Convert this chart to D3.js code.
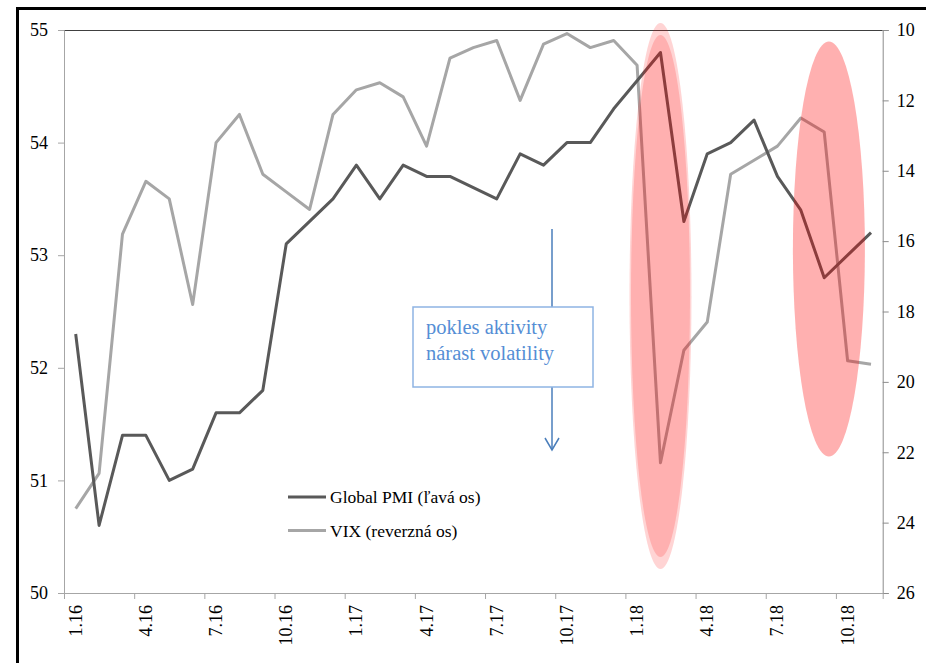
<!DOCTYPE html>
<html>
<head>
<meta charset="utf-8">
<script src="https://cdn.jsdelivr.net/npm/d3@7"></script>
<style>
  body { margin: 0; background: #fff; }
  svg text { font-family: "Liberation Serif", "Times New Roman", "DejaVu Serif", serif !important; }
</style>
</head>
<body>
<svg id="chart" width="926" height="663"></svg>
<script>
// months Jan 2016 .. Nov 2018
const months = ["1.16","2.16","3.16","4.16","5.16","6.16","7.16","8.16","9.16","10.16","11.16","12.16",
  "1.17","2.17","3.17","4.17","5.17","6.17","7.17","8.17","9.17","10.17","11.17","12.17",
  "1.18","2.18","3.18","4.18","5.18","6.18","7.18","8.18","9.18","10.18","11.18"];
const pmi = [52.3,50.6,51.4,51.4,51.0,51.1,51.6,51.6,51.8,53.1,53.3,53.5,
  53.8,53.5,53.8,53.7,53.7,53.6,53.5,53.9,53.8,54.0,54.0,54.3,
  54.55,54.8,53.3,53.9,54.0,54.2,53.7,53.4,52.8,53.0,53.2];
const vix = [23.6,22.6,15.8,14.3,14.8,17.8,13.2,12.4,14.1,14.6,15.1,12.4,
  11.7,11.5,11.9,13.3,10.8,10.5,10.3,12.0,10.4,10.1,10.5,10.3,
  11.0,22.3,19.1,18.3,14.1,13.7,13.3,12.5,12.9,19.4,19.5];
const labelMonths = months.filter((m, i) => i % 3 === 0);
const leftTicks = [50,51,52,53,54,55];
const rightTicks = [10,12,14,16,18,20,22,24,26];
const seriesNames = ["Global PMI (ľavá os)", "VIX (reverzná os)"];
const seriesColors = ["#595959", "#a6a6a6"];

const svg = d3.select("#chart");
const pLeft = 64, pRight = 882.7, pTop = 30, pBottom = 593;

// outer frame (cut off at right and bottom)
svg.append("path")
  .attr("d", "M17.5,663 V8.5 H926")
  .attr("fill", "none").attr("stroke", "#000").attr("stroke-width", 3);

const x = d3.scaleBand().domain(months).range([pLeft, pRight]).padding(0);
const xi = d3.scaleLinear().domain([0, months.length]).range([pLeft, pRight]);
const yL = d3.scaleLinear().domain([50, 55]).range([pBottom, pTop]);
const yR = d3.scaleLinear().domain([10, 26]).range([pTop, pBottom]);
const cx = d => x(d) + x.bandwidth() / 2;

// plot border top
svg.append("line").attr("x1", pLeft).attr("x2", pRight).attr("y1", pTop + 0.5).attr("y2", pTop + 0.5)
  .attr("stroke", "#404040");

// left axis
const gL = svg.append("g").attr("transform", `translate(${pLeft},0)`)
  .call(d3.axisLeft(yL).tickValues(leftTicks).tickSize(6).tickPadding(10).tickFormat(d3.format("d")));
// right axis
const gR = svg.append("g").attr("transform", `translate(${pRight},0)`)
  .call(d3.axisRight(yR).tickValues(rightTicks).tickSize(6).tickPadding(8).tickFormat(d3.format("d")));
// bottom axis: tick marks at category boundaries
const gB = svg.append("g").attr("transform", `translate(0,${pBottom})`)
  .call(d3.axisBottom(xi).tickValues(d3.range(0, months.length, 3)).tickSize(6).tickFormat(""));

[gL, gR, gB].forEach(g => {
  g.attr("font-family", null);
  g.select(".domain").attr("stroke", "#a6a6a6");
  g.selectAll(".tick line").attr("stroke", "#a6a6a6");
  g.selectAll("text").attr("font-size", 18).attr("fill", "#000");
});
gR.select(".domain").attr("stroke", "#8c8c8c");
gR.selectAll(".tick line").attr("stroke", "#8c8c8c");

// month labels rotated
svg.append("g").selectAll("text").data(labelMonths).join("text")
  .attr("transform", d => `translate(${cx(d) + 6},${pBottom + 12}) rotate(-90)`)
  .attr("text-anchor", "end")
  .attr("font-size", 18)
  .text(d => d);

// lines
const linePmi = d3.line().x((d, i) => cx(months[i])).y(d => yL(d));
const lineVix = d3.line().x((d, i) => cx(months[i])).y(d => yR(d));
svg.append("path").datum(vix).attr("d", lineVix)
  .attr("fill", "none").attr("stroke", seriesColors[1]).attr("stroke-width", 3).attr("stroke-linejoin", "round");
svg.append("path").datum(pmi).attr("d", linePmi)
  .attr("fill", "none").attr("stroke", seriesColors[0]).attr("stroke-width", 3).attr("stroke-linejoin", "round");

// highlight ellipses
svg.append("ellipse").attr("cx", cx("2.18")).attr("cy", 296).attr("rx", 31).attr("ry", 273)
  .attr("fill", "#ff0000").attr("fill-opacity", 0.17);
svg.append("ellipse").attr("cx", cx("2.18")).attr("cy", 296).attr("rx", 29.5).attr("ry", 261)
  .attr("fill", "#ff0000").attr("fill-opacity", 0.17);
svg.append("ellipse").attr("cx", xi(32.7)).attr("cy", 249).attr("rx", 36).attr("ry", 207.5)
  .attr("fill", "#ff0000").attr("fill-opacity", 0.31);

// legend
const legend = svg.append("g").selectAll("g").data(seriesNames).join("g")
  .attr("transform", (d, i) => `translate(288,${497 + i * 33.5})`);
legend.append("line").attr("x1", 0).attr("x2", 38).attr("stroke", (d, i) => seriesColors[i]).attr("stroke-width", 3);
legend.append("text").attr("x", 42).attr("dy", "0.35em").attr("font-size", 17.5).text(d => d);

// annotation
const ax = 552;
svg.append("line").attr("x1", ax).attr("x2", ax).attr("y1", 229).attr("y2", 307)
  .attr("stroke", "#4a7ebb").attr("stroke-width", 1.5);
svg.append("line").attr("x1", ax).attr("x2", ax).attr("y1", 387).attr("y2", 450)
  .attr("stroke", "#4a7ebb").attr("stroke-width", 1.5);
svg.append("path").attr("d", `M${ax - 7},${438} L${ax},${450} L${ax + 7},${438}`)
  .attr("fill", "none").attr("stroke", "#4a7ebb").attr("stroke-width", 1.5);
svg.append("rect").attr("x", 413).attr("y", 307).attr("width", 180).attr("height", 80)
  .attr("fill", "#fff").attr("stroke", "#8eb4e3").attr("stroke-width", 1.5);
svg.append("text").attr("x", 426).attr("y", 334).attr("font-size", 20.5).attr("fill", "#558ed5").text("pokles aktivity");
svg.append("text").attr("x", 426).attr("y", 360).attr("font-size", 20.5).attr("fill", "#558ed5").text("nárast volatility");
</script>
</body>
</html>
